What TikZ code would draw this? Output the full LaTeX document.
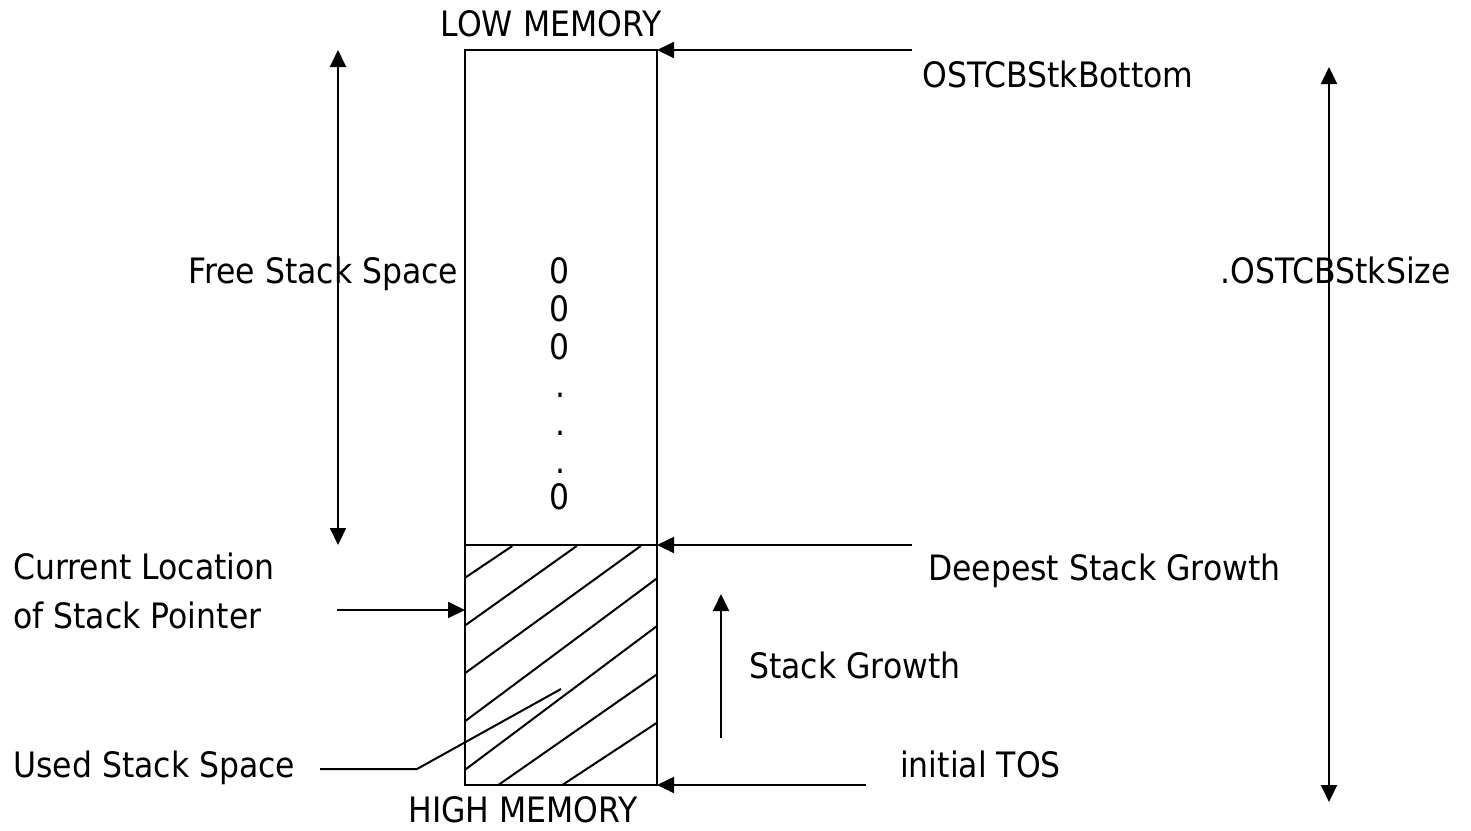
\documentclass[tikz,border=0pt]{standalone}
\usepackage{fontspec}
\setmainfont[FakeStretch=0.9]{DejaVu Sans}
\usetikzlibrary{arrows.meta}
\begin{document}
\begin{tikzpicture}[x=1pt,y=-1pt,
  lbl/.style={inner sep=0pt, font=\fontsize{35}{42}\selectfont},
  tip/.style={-{Triangle[length=17pt,width=16pt]}},
  dtip/.style={{Triangle[length=17pt,width=16pt]}-{Triangle[length=17pt,width=16pt]}},
  boxln/.style={line width=2.2pt},
  ln/.style={line width=2pt},
]
\useasboundingbox (0,0) rectangle (1471,830);
% stack box
\coordinate (tl) at (465,50);
\coordinate (tr) at (657,50);
\coordinate (ml) at (465,545);
\coordinate (mr) at (657,545);
\coordinate (bl) at (465,785);
\coordinate (br) at (657,785);
% hatching of used stack space
\draw[ln] (465.7,577.3) -- (512.3,546);
\draw[ln] (465.7,625) -- (576.7,546);
\draw[ln] (465.7,672.7) -- (640.7,546);
\draw[ln] (465.7,720.7) -- (657,578.3);
\draw[ln] (465.7,769.3) -- (657,626);
\draw[ln] (498.3,785) -- (657,674.3);
\draw[ln] (562.3,785) -- (657,722.7);
\draw[boxln] (tl) rectangle (br);
\draw[boxln] (ml) -- (mr);
% labels
\node[lbl,anchor=base] (low) at (551,36) {LOW MEMORY};
\node[lbl,anchor=base] (high) at (523,822) {HIGH MEMORY};
\node[lbl,anchor=base west] (bottom) at (922,87) {OSTCBStkBottom};
\node[lbl,anchor=base west] (free) at (188,283) {Free Stack Space};
\node[lbl,anchor=base west] (size) at (1220,283) {.OSTCBStkSize};
\node[lbl,anchor=base] (z1) at (560,283) {0};
\node[lbl,anchor=base] (z2) at (560,321) {0};
\node[lbl,anchor=base] (z3) at (560,359) {0};
\node[lbl,anchor=base] (d1) at (560,397) {.};
\node[lbl,anchor=base] (d2) at (560,435) {.};
\node[lbl,anchor=base] (d3) at (560,473) {.};
\node[lbl,anchor=base] (z4) at (560,509) {0};
\node[lbl,anchor=base west] (cur1) at (13,579) {Current Location};
\node[lbl,anchor=base west] (cur2) at (13,628) {of Stack Pointer};
\node[lbl,anchor=base west] (used) at (13,777) {Used Stack Space};
\node[lbl,anchor=base west] (deep) at (928,580) {Deepest Stack Growth};
\node[lbl,anchor=base west] (growth) at (749,678) {Stack Growth};
\node[lbl,anchor=base west] (tos) at (900,777) {initial TOS};
% connectors
\coordinate (a1) at (912,50);
\coordinate (a2) at (912,545);
\coordinate (a3) at (866,785);
\draw[ln,tip] (a1) -- (tr);
\draw[ln,tip] (a2) -- (mr);
\draw[ln,tip] (a3) -- (br);
\coordinate (sp0) at (337,610);
\coordinate (sp1) at (465,610);
\draw[ln,tip] (sp0) -- (sp1);
\coordinate (g0) at (721,738);
\coordinate (g1) at (721,594);
\draw[ln,tip] (g0) -- (g1);
\coordinate (fs0) at (338,50);
\coordinate (fs1) at (338,545);
\draw[ln,dtip] (fs0) -- (fs1);
\coordinate (ss0) at (1329,67);
\coordinate (ss1) at (1329,802);
\draw[ln,dtip] (ss0) -- (ss1);
\coordinate (u0) at (320,769);
\coordinate (u1) at (417,769);
\coordinate (u2) at (561,689);
\draw[ln] (u0) -- (u1) -- (u2);
\end{tikzpicture}
\end{document}
